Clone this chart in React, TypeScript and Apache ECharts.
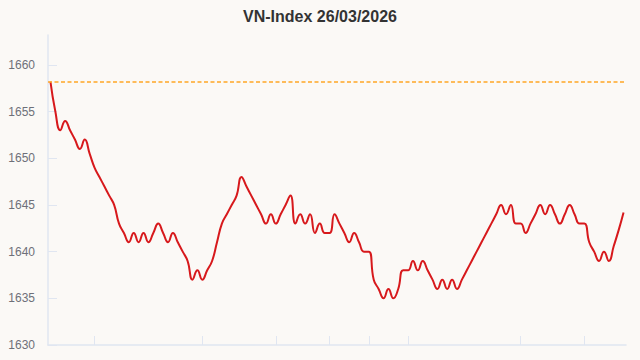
import React, { useEffect, useRef } from "react";
import * as echarts from "echarts";

const TITLE = "VN-Index 26/03/2026";
const REFERENCE_LEVEL = 1658.2;

const indexValues: number[] = [
  1658.2, 1655, 1653, 1654, 1653, 1652, 1651, 1652, 1650.5, 1649,
  1648, 1647, 1646, 1645, 1643, 1642, 1641, 1642, 1641, 1642,
  1641, 1642, 1643, 1642, 1641, 1642, 1641, 1640, 1639, 1637,
  1638, 1637, 1638, 1639, 1641, 1643, 1644, 1645, 1646, 1648,
  1647, 1646, 1645, 1644, 1643, 1644, 1643, 1644, 1645, 1646,
  1643, 1644, 1643, 1644, 1642, 1643, 1642, 1642, 1644, 1643,
  1642, 1641, 1642, 1641, 1640, 1640, 1637, 1636, 1635, 1636,
  1635, 1636, 1638, 1638, 1639, 1638, 1639, 1638, 1637, 1636,
  1637, 1636, 1637, 1636, 1637, 1638, 1639, 1640, 1641, 1642,
  1643, 1644, 1645, 1644, 1645, 1643, 1643, 1642, 1643, 1644,
  1645, 1644, 1645, 1644, 1643, 1644, 1645, 1644, 1643, 1643,
  1641, 1640, 1639, 1640, 1639, 1640.6, 1642.3, 1644.2,
];

const categories: string[] = indexValues.map((_, i) => String(i));

const xTickIndices: number[] = [9, 31, 46, 57, 65, 73, 96, 109];
const yTickValues: number[] = [1630, 1635, 1640, 1645, 1650, 1655, 1660];

const BG = "#fbf9f6";

export default function App() {
  const ref = useRef<HTMLDivElement>(null);

  useEffect(() => {
    document.body.style.margin = "0";
    document.body.style.background = BG;
    if (!ref.current) return;
    const chart = echarts.init(ref.current, null, { renderer: "svg" });
    chart.setOption({
      animation: false,
      backgroundColor: BG,
      title: {
        text: TITLE,
        left: "center",
        top: 3,
        textStyle: {
          fontFamily: "Liberation Sans, Arial, sans-serif",
          fontSize: 16,
          fontWeight: "bold",
          color: "#333333",
        },
      },
      grid: { left: 48, right: 14, top: 35, bottom: 15, containLabel: false },
      xAxis: {
        type: "category",
        data: categories,
        boundaryGap: true,
        axisLine: { show: true, lineStyle: { color: "#E0E6F1", width: 1.5 } },
        axisTick: {
          show: true,
          inside: true,
          length: 9,
          alignWithLabel: true,
          interval: (index: number) => xTickIndices.includes(index),
          lineStyle: { color: "#E0E6F1", width: 1 },
        },
        axisLabel: { show: false },
        splitLine: { show: false },
      },
      yAxis: {
        type: "value",
        min: 1630,
        max: 1663.2,
        interval: 5,
        axisLine: { show: true, lineStyle: { color: "#E0E6F1", width: 1.5 } },
        axisTick: {
          show: true,
          inside: true,
          length: 9,
          customValues: yTickValues,
          lineStyle: { color: "#E0E6F1", width: 1 },
        },
        axisLabel: {
          customValues: yTickValues,
          formatter: (v: number) => String(v),
          margin: 13,
          color: "#6E7079",
          fontSize: 12,
          fontFamily: "Liberation Sans, Arial, sans-serif",
        },
        splitLine: { show: false },
      },
      series: [
        {
          type: "line",
          data: indexValues,
          smooth: true,
          symbol: "none",
          lineStyle: { color: "#d7191c", width: 2 },
          markLine: {
            silent: true,
            symbol: "none",
            label: { show: false },
            lineStyle: { color: "#FFA726", width: 1.5, type: [4, 2.5] },
            data: [{ yAxis: REFERENCE_LEVEL }],
          },
        },
      ],
    });
    return () => chart.dispose();
  }, []);

  return <div ref={ref} style={{ width: 640, height: 360 }} />;
}
